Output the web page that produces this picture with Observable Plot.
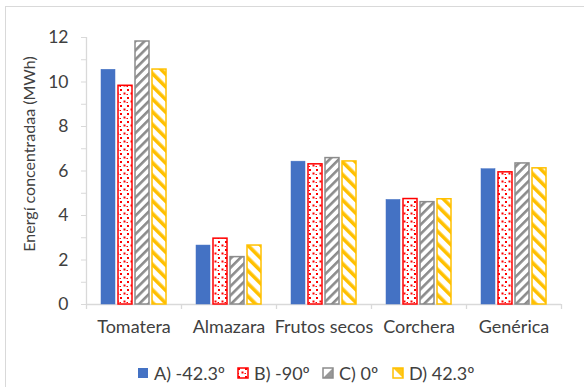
<!DOCTYPE html>
<html>
<head>
<meta charset="utf-8">
<script src="https://cdn.jsdelivr.net/npm/d3@7"></script>
<script src="https://cdn.jsdelivr.net/npm/@observablehq/plot@0.6"></script>
<style>
  html, body { margin: 0; padding: 0; background: #fff; }
  body { width: 584px; height: 387px; position: relative; overflow: hidden; font-family: Lato, "Liberation Sans", sans-serif; color: #404040; }
  #border { position: absolute; left: 5px; top: 6px; width: 640px; height: 440px; border: 1px solid #d9d9d9; box-sizing: border-box; }
  #chart { position: absolute; left: 0; top: 0; }
  #ylabel { position: absolute; left: 28px; top: 154px; transform: translate(-50%, -50%) rotate(-90deg); white-space: nowrap; font-size: 16px; }
  #legend { position: absolute; top: 362px; left: 0; width: 584px; height: 20px; font-size: 18px; }
  .item { position: absolute; top: 0; display: flex; align-items: center; gap: 5px; white-space: nowrap; }
  .item svg { display: block; }
</style>
</head>
<body>
<div id="border"></div>
<div id="chart"></div>
<div id="ylabel">Energí concentradaa (MWh)</div>
<div id="legend"></div>
<script>
const categories = ["Tomatera", "Almazara", "Frutos secos", "Corchera", "Genérica"];
const seriesNames = ["A) -42.3º", "B) -90º", "C) 0º", "D) 42.3º"];
const serieA = [10.55, 2.65, 6.42, 4.70, 6.08];
const serieB = [9.83, 2.96, 6.30, 4.74, 5.94];
const serieC = [11.82, 2.13, 6.58, 4.60, 6.34];
const serieD = [10.56, 2.65, 6.43, 4.73, 6.12];
const yTicks = [0, 1, 2, 3, 4, 5, 6, 7, 8, 9, 10, 11, 12];

const seriesValues = [serieA, serieB, serieC, serieD];
const styles = [
  {fill: "#4472C4", stroke: "#4472C4", strokeWidth: 0.5},
  {fill: "url(#patB)", stroke: "#FF0000", strokeWidth: 1.5},
  {fill: "url(#patC)", stroke: "#8C8C8C", strokeWidth: 1.5},
  {fill: "url(#patD)", stroke: "#FFC000", strokeWidth: 1.5}
];
const insets = [[15, 66], [32, 49], [49, 32], [66, 15]];
const legendLeft = [137, 237, 322, 392];

const rows = seriesValues.map((vals, s) => categories.map((c, i) => ({cat: c, value: vals[i], series: seriesNames[s]})));

const half = 47.5;
const marks = [
  Plot.ruleY([0], {stroke: "#d9d9d9", strokeWidth: 1.3}),
  Plot.ruleX([categories[0]], {x: d => d, dx: -half, y1: 0, y2: 12, stroke: "#d9d9d9", strokeWidth: 1.3}),
  Plot.ruleX(categories, {x: d => d, dx: -half, y1: 0, y2: 0, insetBottom: -5, stroke: "#d9d9d9", strokeWidth: 1.3}),
  Plot.ruleX([categories[categories.length - 1]], {x: d => d, dx: half, y1: 0, y2: 0, insetBottom: -5, stroke: "#d9d9d9", strokeWidth: 1.3}),
  ...rows.map((data, s) => Plot.barY(data, {
    x: "cat", y: "value",
    insetLeft: insets[s][0], insetRight: insets[s][1],
    ...styles[s]
  })),
  Plot.axisY({ticks: yTicks, tickFormat: d => d % 2 === 0 ? String(d) : "", tickSize: 5, tickPadding: 13, stroke: "#d9d9d9", fill: "#404040", fontSize: 17.5, label: null}),
  Plot.axisX({tickSize: 0, tickPadding: 16, fill: "#404040", fontSize: 18, label: null})
];

const svg = Plot.plot({
  width: 584,
  height: 345,
  marginLeft: 86,
  marginRight: 23,
  marginTop: 37,
  marginBottom: 41,
  style: {fontFamily: "Lato, 'Liberation Sans', sans-serif", fontSize: "18px", color: "#404040", background: "transparent", overflow: "visible"},
  x: {domain: categories, padding: 0},
  y: {domain: [0, 12]},
  marks
});

const defs = d3.select(svg).insert("defs", ":first-child");
// B: red dots
const pB = defs.append("pattern").attr("id", "patB").attr("patternUnits", "userSpaceOnUse").attr("width", 7).attr("height", 8);
pB.append("rect").attr("width", 7).attr("height", 8).attr("fill", "#fff");
pB.append("rect").attr("x", 1).attr("y", 1).attr("width", 2).attr("height", 2).attr("fill", "#FF0000");
pB.append("rect").attr("x", 4.5).attr("y", 4.5).attr("width", 2).attr("height", 2).attr("fill", "#FF0000");
pB.append("rect").attr("x", 0.5).attr("y", 6).attr("width", 1.5).attr("height", 1).attr("fill", "#FF0000");
// C: gray "/" stripes
const pC = defs.append("pattern").attr("id", "patC").attr("patternUnits", "userSpaceOnUse").attr("width", 6.5).attr("height", 6.5).attr("patternTransform", "rotate(45)");
pC.append("rect").attr("width", 6.5).attr("height", 6.5).attr("fill", "#fff");
pC.append("rect").attr("width", 2.6).attr("height", 6.5).attr("fill", "#8C8C8C");
// D: yellow "\" stripes
const pD = defs.append("pattern").attr("id", "patD").attr("patternUnits", "userSpaceOnUse").attr("width", 9).attr("height", 9).attr("patternTransform", "rotate(-45)");
pD.append("rect").attr("width", 9).attr("height", 9).attr("fill", "#fff");
pD.append("rect").attr("width", 3.6).attr("height", 9).attr("fill", "#FFC000");

document.getElementById("chart").appendChild(svg);

// legend
const legend = d3.select("#legend");
const swatchShapes = [null, null, "M11,1 L11,11 L1,11 Z", "M1,1 L11,1 L11,11 Z"];
seriesNames.forEach((name, s) => {
  const item = legend.append("div").attr("class", "item").style("left", legendLeft[s] + "px");
  const sw = item.append("svg").attr("width", 12).attr("height", 12);
  if (s === 0) {
    sw.append("rect").attr("x", 1).attr("y", 1).attr("width", 10).attr("height", 10).attr("fill", styles[0].fill);
  } else if (s === 1) {
    sw.append("rect").attr("x", 1).attr("y", 1).attr("width", 10).attr("height", 10)
      .attr("fill", "url(#patB)").attr("stroke", styles[1].stroke).attr("stroke-width", 1.5);
  } else {
    sw.append("rect").attr("x", 1).attr("y", 1).attr("width", 10).attr("height", 10)
      .attr("fill", "#fff").attr("stroke", styles[s].stroke).attr("stroke-width", 1.5);
    sw.append("path").attr("d", swatchShapes[s]).attr("fill", styles[s].stroke).attr("opacity", 0.9);
  }
  item.append("span").text(name);
});
</script>
</body>
</html>
